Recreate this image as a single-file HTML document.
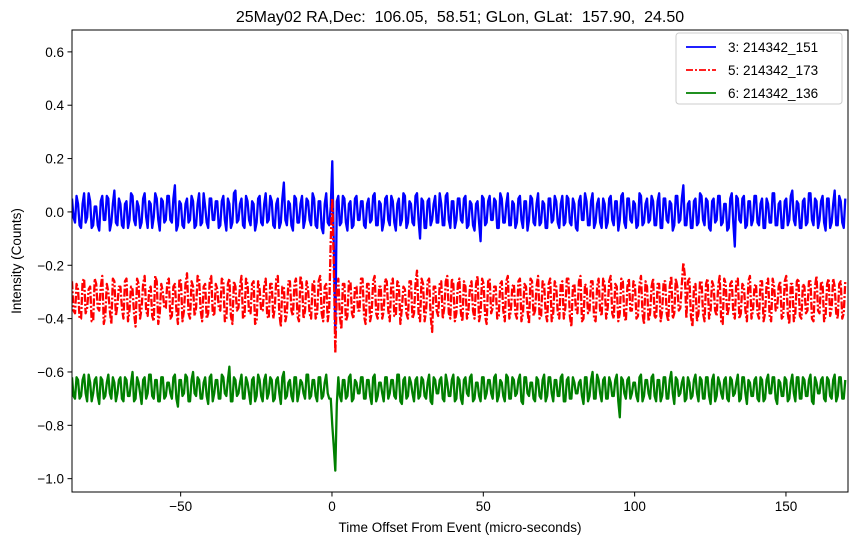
<!DOCTYPE html>
<html><head><meta charset="utf-8"><style>
body{margin:0;background:#fff;}
svg text{font-family:"Liberation Sans","DejaVu Sans",sans-serif;}
</style></head><body>
<svg id="chart" width="858" height="545" xmlns="http://www.w3.org/2000/svg">
<rect width="858" height="545" fill="#fff"/>
<text x="460" y="22" font-size="16" text-anchor="middle" style="white-space:pre">25May02 RA,Dec:  106.05,  58.51; GLon, GLat:  157.90,  24.50</text>
<g id="plot"></g>
<g id="axes"></g>
<text x="460" y="532" font-size="13.5" text-anchor="middle">Time Offset From Event (micro-seconds)</text>
<text transform="translate(21,261) rotate(-90)" font-size="13.5" text-anchor="middle">Intensity (Counts)</text>
<g>
<rect x="676" y="33" width="166" height="71" rx="3" fill="#fff" stroke="#ccc"/>
<line x1="686" y1="47" x2="716" y2="47" stroke="#0000ff" stroke-width="1.8"/>
<text x="728" y="52" font-size="13.5">3: 214342_151</text>
<line x1="686" y1="70" x2="716" y2="70" stroke="#ff0000" stroke-width="1.8" stroke-dasharray="7,2,2,2"/>
<text x="728" y="75" font-size="13.5">5: 214342_173</text>
<line x1="686" y1="93" x2="716" y2="93" stroke="#008000" stroke-width="1.8"/>
<text x="728" y="98" font-size="13.5">6: 214342_136</text>
</g>
</svg>
<script>
const t0 = -85.9;
const dt = 1.0;
const xTicks = [-50, 0, 50, 100, 150];
const xTickLabels = ["−50", "0", "50", "100", "150"];
const yTicks = [0.6, 0.4, 0.2, 0.0, -0.2, -0.4, -0.6, -0.8, -1.0];
const yTickLabels = ["0.6", "0.4", "0.2", "0.0", "−0.2", "−0.4", "−0.6", "−0.8", "−1.0"];
// samples at t0 + i*dt
const series3 = [
.05,-.04,.03,-.06,.07,-.02,.04,-.05,.02,-.07,.06,-.03,.05,-.04,.08,-.05,
.03,-.06,.04,-.03,.06,-.05,.02,-.04,.07,-.06,.03,-.02,.05,-.07,.04,-.03,
.06,-.04,.10,-.05,.03,-.06,.05,-.03,.04,-.05,.07,-.04,.02,-.06,.05,-.03,
.04,-.05,.06,-.07,.03,-.04,.08,-.03,.05,-.06,.04,-.05,.03,-.04,.06,-.05,
.07,-.03,.04,-.06,.05,-.04,.11,-.05,.03,-.07,.05,-.04,.06,-.03,.04,-.05,
.05,-.06,.04,-.08,.07,-.05,.19,-.45,.06,-.04,.05,-.07,.04,-.05,.06,-.03,
.04,-.06,.05,-.03,.07,-.05,.03,-.04,.06,-.05,.04,-.07,.05,-.03,.06,-.04,
.03,-.05,.07,-.10,.04,-.06,.05,-.03,.06,-.04,.03,-.05,.07,-.06,.04,-.03,
.05,-.04,.06,-.05,.03,-.07,.04,-.11,.05,-.04,.06,-.03,.04,-.06,.05,-.04,
.07,-.05,.03,-.04,.06,-.06,.04,-.03,.05,-.05,.07,-.04,.03,-.06,.05,-.03,
.04,-.06,.06,-.04,.05,-.05,.03,-.07,.06,-.03,.04,-.05,.07,-.04,.05,-.06,
.03,-.04,.06,-.05,.04,-.03,.07,-.06,.05,-.04,.03,-.05,.06,-.04,.05,-.03,
.04,-.05,.07,-.06,.05,-.04,.03,-.05,.06,-.03,.10,-.05,.04,-.06,.05,-.04,
.06,-.05,.04,-.07,.05,-.03,.06,-.04,.03,-.06,.07,-.13,.05,-.04,.06,-.05,
.04,-.03,.06,-.05,.05,-.06,.03,-.04,.07,-.05,.04,-.06,.05,-.03,.08,-.05,
.03,-.06,.05,-.04,.07,-.05,.04,-.03,.06,-.07,.05,-.04,.08,-.05,.04,-.06];
// samples at t0 + (i+0.5)*dt
const series3Mid = [
-.02,.06,-.05,.03,-.04,.07,-.06,.02,-.05,.04,-.03,.06,-.07,.03,-.04,.05,
-.05,.03,-.06,.07,-.03,.04,-.06,.05,-.02,.04,-.06,.07,-.03,.05,-.04,.06,
-.03,.05,-.07,.04,-.05,.03,-.04,.06,-.06,.03,-.05,.07,-.04,.05,-.03,.04,
-.06,.04,-.03,.05,-.06,.07,-.04,.03,-.05,.06,-.03,.04,-.07,.05,-.04,.03,
-.04,.06,-.05,.03,-.06,.05,-.03,.04,-.05,.06,-.04,.03,-.06,.05,-.03,.07,
-.05,.04,-.06,.03,-.04,.02,-.12,.04,-.05,.06,-.04,.03,-.06,.05,-.03,.04,
-.05,.03,-.04,.06,-.05,.04,-.07,.05,-.03,.06,-.04,.03,-.05,.07,-.06,.04,
-.04,.06,-.03,.05,-.06,.04,-.05,.03,-.04,.07,-.05,.06,-.03,.04,-.06,.05,
-.03,.05,-.06,.04,-.05,.03,-.04,.06,-.05,.04,-.03,.05,-.06,.07,-.04,.03,
-.05,.04,-.06,.05,-.03,.04,-.07,.06,-.04,.03,-.05,.04,-.06,.05,-.04,.06,
-.04,.03,-.05,.06,-.04,.05,-.06,.04,-.03,.07,-.05,.04,-.06,.03,-.04,.05,
-.06,.05,-.03,.04,-.07,.06,-.04,.05,-.03,.04,-.06,.07,-.05,.03,-.04,.06,
-.05,.04,-.06,.05,-.03,.04,-.07,.06,-.04,.05,-.05,.03,-.06,.04,-.05,.07,
-.03,.05,-.06,.04,-.04,.06,-.05,.03,-.07,.05,-.04,.06,-.03,.05,-.06,.04,
-.05,.06,-.04,.03,-.06,.05,-.04,.07,-.05,.03,-.06,.04,-.05,.06,-.03,.04,
-.06,.04,-.05,.07,-.03,.05,-.06,.04,-.04,.05,-.06,.03,-.05,.06,-.04,.05];
const series5 = [
-.26,-.38,-.29,-.40,-.25,-.36,-.28,-.41,-.27,-.37,-.24,-.39,-.30,-.42,-.26,-.35,
-.28,-.40,-.25,-.37,-.29,-.43,-.27,-.36,-.24,-.39,-.28,-.41,-.26,-.38,-.30,-.36,
-.25,-.39,-.27,-.42,-.26,-.37,-.23,-.40,-.28,-.36,-.25,-.41,-.27,-.38,-.24,-.39,
-.29,-.37,-.26,-.40,-.25,-.42,-.28,-.36,-.24,-.39,-.27,-.38,-.26,-.41,-.29,-.37,
-.25,-.40,-.27,-.36,-.24,-.43,-.28,-.38,-.26,-.39,-.25,-.41,-.27,-.37,-.29,-.40,
-.26,-.38,-.24,-.41,-.27,-.36,.05,-.53,-.25,-.44,-.27,-.39,-.26,-.40,-.28,-.37,
-.25,-.42,-.27,-.38,-.24,-.40,-.28,-.37,-.26,-.41,-.25,-.39,-.27,-.36,-.29,-.40,
-.26,-.38,-.22,-.41,-.27,-.37,-.25,-.45,-.28,-.39,-.26,-.36,-.24,-.40,-.27,-.38,
-.25,-.41,-.28,-.37,-.26,-.40,-.24,-.38,-.27,-.42,-.25,-.36,-.28,-.39,-.26,-.41,
-.24,-.37,-.27,-.40,-.25,-.38,-.28,-.42,-.26,-.37,-.24,-.39,-.27,-.41,-.25,-.38,
-.28,-.40,-.26,-.36,-.25,-.43,-.27,-.38,-.24,-.40,-.28,-.37,-.26,-.41,-.25,-.39,
-.27,-.36,-.24,-.40,-.28,-.38,-.26,-.41,-.25,-.37,-.27,-.39,-.24,-.42,-.28,-.38,
-.25,-.40,-.27,-.37,-.26,-.41,-.24,-.38,-.28,-.36,-.19,-.40,-.25,-.43,-.27,-.38,
-.26,-.41,-.25,-.37,-.28,-.39,-.24,-.42,-.27,-.36,-.26,-.40,-.25,-.38,-.28,-.41,
-.24,-.37,-.27,-.40,-.26,-.38,-.25,-.41,-.28,-.36,-.26,-.39,-.24,-.42,-.27,-.38,
-.25,-.40,-.28,-.37,-.26,-.41,-.24,-.38,-.27,-.39,-.25,-.36,-.28,-.40,-.26,-.38];
const series5Mid = [
-.37,-.27,-.40,-.26,-.38,-.29,-.41,-.25,-.36,-.28,-.42,-.27,-.37,-.25,-.39,-.28,
-.36,-.26,-.41,-.28,-.38,-.25,-.40,-.27,-.37,-.29,-.39,-.24,-.42,-.27,-.36,-.26,
-.40,-.28,-.37,-.25,-.41,-.27,-.38,-.26,-.39,-.24,-.37,-.28,-.40,-.26,-.38,-.27,
-.36,-.25,-.41,-.27,-.39,-.26,-.37,-.28,-.40,-.25,-.38,-.27,-.42,-.26,-.37,-.28,
-.39,-.27,-.40,-.25,-.38,-.28,-.41,-.26,-.37,-.27,-.39,-.24,-.40,-.26,-.38,-.27,
-.40,-.26,-.38,-.28,-.41,-.10,-.20,-.30,-.39,-.27,-.41,-.26,-.38,-.28,-.37,-.25,
-.39,-.27,-.41,-.26,-.38,-.28,-.40,-.25,-.37,-.27,-.39,-.26,-.42,-.28,-.38,-.26,
-.40,-.27,-.38,-.25,-.41,-.26,-.39,-.28,-.37,-.27,-.40,-.26,-.38,-.25,-.41,-.27,
-.38,-.26,-.40,-.28,-.37,-.27,-.41,-.25,-.39,-.26,-.38,-.28,-.40,-.27,-.37,-.26,
-.40,-.28,-.38,-.26,-.41,-.27,-.37,-.25,-.39,-.28,-.40,-.26,-.38,-.27,-.41,-.26,
-.38,-.27,-.40,-.25,-.39,-.28,-.37,-.26,-.41,-.27,-.38,-.26,-.40,-.28,-.37,-.25,
-.40,-.26,-.38,-.27,-.41,-.25,-.39,-.28,-.37,-.26,-.40,-.27,-.38,-.26,-.41,-.28,
-.39,-.27,-.41,-.26,-.38,-.28,-.40,-.25,-.37,-.27,-.24,-.26,-.39,-.28,-.41,-.26,
-.38,-.27,-.40,-.26,-.37,-.28,-.41,-.25,-.39,-.27,-.38,-.26,-.40,-.27,-.37,-.26,
-.40,-.28,-.38,-.26,-.41,-.27,-.39,-.25,-.37,-.28,-.40,-.26,-.38,-.27,-.41,-.26,
-.39,-.27,-.38,-.26,-.40,-.28,-.37,-.26,-.41,-.27,-.39,-.25,-.38,-.27,-.40,-.26];
const series6 = [
-.62,-.70,-.63,-.69,-.61,-.71,-.64,-.68,-.62,-.72,-.63,-.69,-.61,-.70,-.64,-.68,
-.62,-.71,-.63,-.69,-.60,-.70,-.64,-.72,-.62,-.68,-.61,-.70,-.63,-.71,-.62,-.69,
-.64,-.70,-.61,-.73,-.63,-.68,-.62,-.71,-.60,-.69,-.63,-.70,-.62,-.72,-.61,-.68,
-.63,-.70,-.62,-.69,-.58,-.71,-.63,-.68,-.61,-.70,-.64,-.72,-.62,-.69,-.63,-.71,
-.61,-.68,-.63,-.70,-.62,-.72,-.60,-.69,-.63,-.71,-.62,-.68,-.64,-.70,-.61,-.69,
-.63,-.71,-.62,-.69,-.61,-.70,-.80,-.97,-.62,-.71,-.63,-.69,-.61,-.70,-.64,-.68,
-.62,-.70,-.63,-.72,-.61,-.69,-.64,-.71,-.62,-.68,-.63,-.70,-.61,-.72,-.62,-.69,
-.64,-.71,-.62,-.69,-.63,-.70,-.61,-.72,-.63,-.68,-.62,-.71,-.64,-.69,-.61,-.70,
-.63,-.72,-.62,-.69,-.61,-.70,-.64,-.71,-.62,-.68,-.63,-.70,-.61,-.69,-.64,-.71,
-.62,-.70,-.63,-.68,-.61,-.72,-.62,-.69,-.64,-.71,-.63,-.70,-.61,-.69,-.62,-.71,
-.63,-.69,-.61,-.71,-.62,-.70,-.64,-.68,-.63,-.72,-.62,-.69,-.60,-.70,-.63,-.71,
-.62,-.70,-.64,-.69,-.61,-.77,-.63,-.70,-.62,-.68,-.64,-.71,-.61,-.69,-.63,-.70,
-.61,-.71,-.63,-.69,-.62,-.70,-.60,-.72,-.63,-.68,-.62,-.70,-.64,-.69,-.61,-.71,
-.63,-.70,-.62,-.72,-.61,-.69,-.64,-.70,-.62,-.71,-.63,-.68,-.61,-.70,-.62,-.72,
-.64,-.69,-.62,-.71,-.63,-.70,-.61,-.68,-.62,-.72,-.64,-.69,-.63,-.70,-.61,-.71,
-.62,-.70,-.63,-.69,-.61,-.72,-.64,-.68,-.62,-.71,-.63,-.70,-.61,-.69,-.62,-.70];
const series6Mid = [
-.69,-.62,-.70,-.63,-.68,-.61,-.71,-.63,-.69,-.62,-.70,-.64,-.68,-.62,-.71,-.63,
-.70,-.62,-.69,-.64,-.71,-.62,-.68,-.63,-.70,-.61,-.69,-.63,-.71,-.62,-.70,-.64,
-.68,-.62,-.70,-.63,-.69,-.61,-.71,-.63,-.68,-.62,-.70,-.64,-.69,-.62,-.71,-.63,
-.70,-.61,-.68,-.63,-.71,-.62,-.69,-.64,-.70,-.62,-.68,-.63,-.71,-.61,-.69,-.63,
-.70,-.62,-.71,-.63,-.68,-.62,-.70,-.64,-.69,-.62,-.71,-.63,-.68,-.61,-.70,-.63,
-.69,-.62,-.70,-.64,-.68,-.70,-.88,-.72,-.69,-.63,-.70,-.62,-.71,-.63,-.68,-.62,
-.70,-.63,-.69,-.62,-.71,-.64,-.68,-.62,-.70,-.63,-.69,-.61,-.71,-.63,-.70,-.62,
-.68,-.63,-.70,-.62,-.69,-.64,-.71,-.62,-.68,-.63,-.70,-.61,-.69,-.63,-.71,-.62,
-.70,-.63,-.68,-.62,-.71,-.64,-.69,-.62,-.70,-.63,-.68,-.62,-.71,-.63,-.69,-.61,
-.70,-.62,-.69,-.63,-.71,-.62,-.68,-.64,-.70,-.62,-.69,-.63,-.71,-.62,-.68,-.63,
-.69,-.62,-.71,-.63,-.70,-.62,-.68,-.64,-.69,-.62,-.71,-.63,-.70,-.61,-.68,-.63,
-.70,-.62,-.69,-.63,-.71,-.62,-.68,-.63,-.70,-.64,-.69,-.62,-.71,-.63,-.68,-.62,
-.69,-.63,-.71,-.62,-.70,-.63,-.68,-.62,-.69,-.64,-.71,-.62,-.70,-.63,-.68,-.62,
-.70,-.62,-.69,-.63,-.71,-.62,-.68,-.63,-.70,-.62,-.69,-.64,-.71,-.62,-.68,-.63,
-.69,-.63,-.70,-.62,-.71,-.63,-.68,-.62,-.70,-.63,-.69,-.62,-.71,-.64,-.68,-.62,
-.70,-.62,-.69,-.63,-.71,-.62,-.68,-.63,-.70,-.62,-.69,-.63,-.71,-.62,-.70,-.63];

const NS = "http://www.w3.org/2000/svg";
const L = 72, R = 848, T = 30, B = 492;
const xMin = -85.9, xMax = 170.5, yMin = -1.05, yMax = 0.682;
function xs(v){ return L + (v - xMin) / (xMax - xMin) * (R - L); }
function ys(v){ return B - (v - yMin) / (yMax - yMin) * (B - T); }
function mk(tag, attrs, parent){ const e = document.createElementNS(NS, tag); for (const k in attrs) e.setAttribute(k, attrs[k]); parent.appendChild(e); return e; }

const plot = document.getElementById('plot');
const axes = document.getElementById('axes');
const clip = mk('clipPath', {id:'clip'}, plot);
mk('rect', {x:L, y:T, width:R-L, height:B-T}, clip);

function drawSeries(vals, mids, color, dash, name){
  let d = '';
  vals.forEach((v, i) => {
    d += (i ? 'L' : 'M') + xs(t0 + i*dt).toFixed(2) + ',' + ys(v).toFixed(2);
    if (i < mids.length) d += 'L' + xs(t0 + (i + 0.5)*dt).toFixed(2) + ',' + ys(mids[i]).toFixed(2);
  });
  const p = mk('path', {d:d, fill:'none', stroke:color, 'stroke-width':2.3, 'stroke-linejoin':'round', 'clip-path':'url(#clip)'}, plot);
  if (dash) p.setAttribute('stroke-dasharray', dash);
  
  
}
drawSeries(series3, series3Mid, '#0000ff', null, 'series-3-line');
drawSeries(series5, series5Mid, '#ff0000', '8,2,2,2', 'series-5-line');
drawSeries(series6, series6Mid, '#008000', null, 'series-6-line');

const frame = mk('rect', {x:L, y:T, width:R-L, height:B-T, fill:'none', stroke:'#000', 'stroke-width':1}, axes);



xTicks.forEach((v, i) => {
  const x = xs(v);
  const tk = mk('line', {x1:x, y1:B, x2:x, y2:B+4.5, stroke:'#000'}, axes);
  
  
  const tx = mk('text', {x:x, y:B+19, 'font-size':13.5, 'text-anchor':'middle'}, axes);
  tx.textContent = xTickLabels[i];
  
  
});
yTicks.forEach((v, i) => {
  const y = ys(v);
  const tk = mk('line', {x1:L-4.5, y1:y, x2:L, y2:y, stroke:'#000'}, axes);
  
  
  const tx = mk('text', {x:L-8, y:y+5, 'font-size':13.5, 'text-anchor':'end'}, axes);
  tx.textContent = yTickLabels[i];
  
  
});
</script>
</body></html>
